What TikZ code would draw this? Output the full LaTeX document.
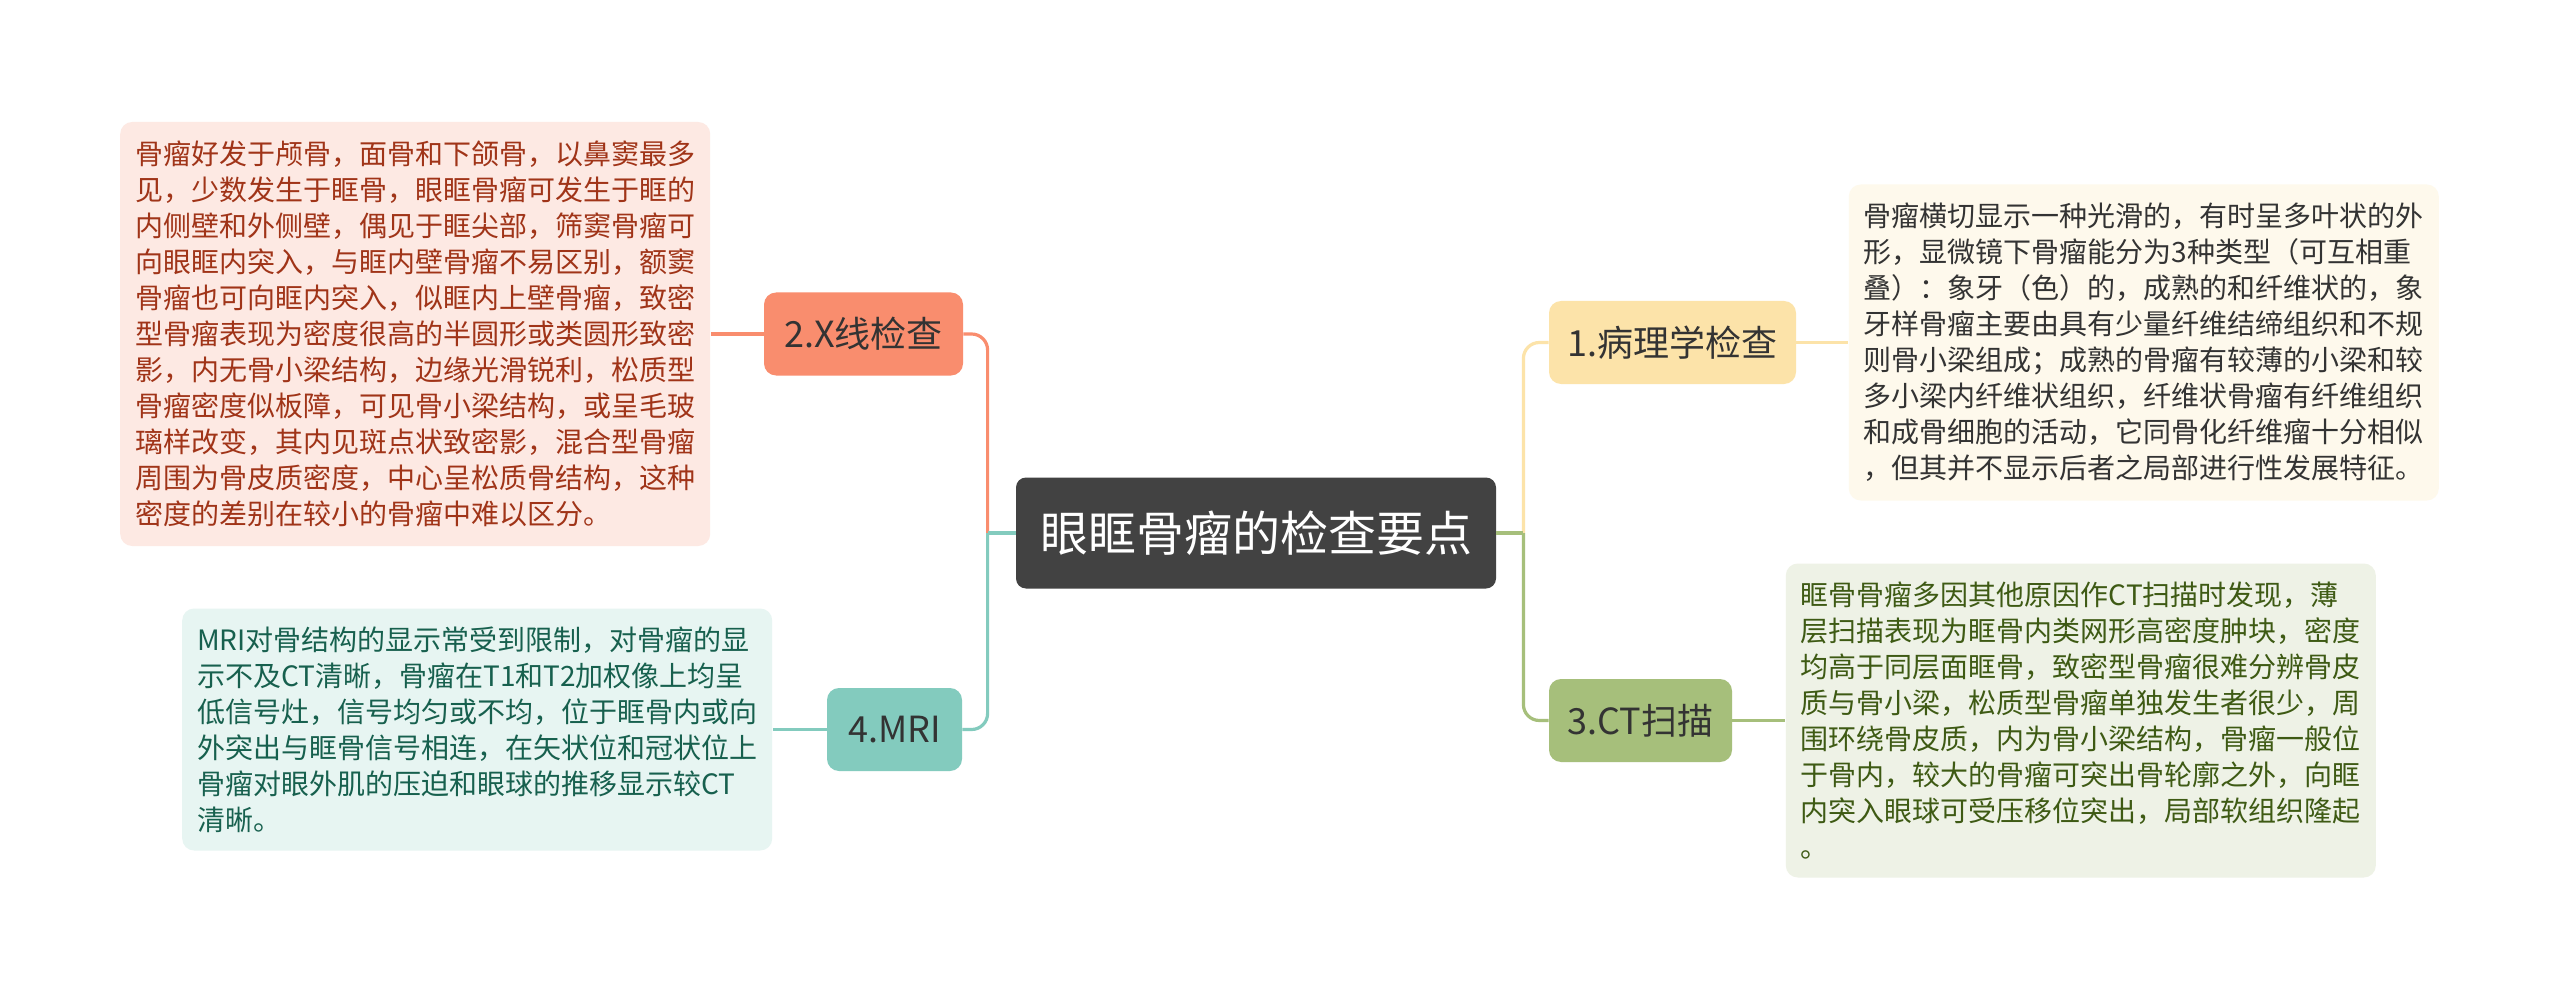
\documentclass[tikz,border=0pt]{standalone}
\usepackage{fontspec}
\setmainfont{Noto Sans CJK SC}
\usepackage{xcolor}
\usetikzlibrary{positioning, calc}

\definecolor{rootgray}{HTML}{424242}
\definecolor{xrayorange}{HTML}{F98D6E}
\definecolor{xraypink}{HTML}{FDE9E3}
\definecolor{xraytext}{HTML}{A03418}
\definecolor{mriteal}{HTML}{83CBBE}
\definecolor{mripale}{HTML}{E7F5F2}
\definecolor{mritext}{HTML}{17604E}
\definecolor{pathoyellow}{HTML}{FCE3A9}
\definecolor{pathopale}{HTML}{FEF9EC}
\definecolor{ctgreen}{HTML}{A6BF7B}
\definecolor{ctpale}{HTML}{EEF2E6}
\definecolor{cttext}{HTML}{3E5A14}

\begin{document}
\begin{tikzpicture}[
  x=0.5pt, y=-0.5pt,
  rootbox/.style={rectangle, rounded corners=5pt, fill=rootgray, text=white,
        minimum width=240pt, minimum height=55.5pt, inner sep=0pt,
        font=\fontsize{24pt}{28pt}\selectfont},
  branchbox/.style={rectangle, rounded corners=6pt, minimum height=41.5pt,
        inner sep=0pt, text=black!80, font=\fontsize{18pt}{22pt}\selectfont},
  notebox/.style={rectangle, rounded corners=6pt, text width=280pt,
        inner xsep=7.5pt, inner ysep=0pt, align=left,
        font=\fontsize{14pt}{18pt}\selectfont},
  link/.style={line width=1.6pt},
]

% --- canvas ---
\fill[white] (0,0) rectangle (2560,1000);
\useasboundingbox (0,0) rectangle (2560,1000);

% --- root and the four branches ---
\node[rootbox] (root) at (1256,533) {眼眶骨瘤的检查要点};

\node[branchbox, fill=xrayorange, minimum width=99.5pt]  (xray)  at (863.5,334)   {2.X线检查};
\node[branchbox, fill=mriteal, minimum width=67.5pt]     (mri)   at (894.5,729.5) {4.MRI};
\node[branchbox, fill=pathoyellow, minimum width=123.5pt] (patho) at (1672.5,342.5) {1.病理学检查};
\node[branchbox, fill=ctgreen, minimum width=91.5pt]     (ct)    at (1640.5,720.5) {3.CT扫描};

% --- notes, left side ---
\node[notebox, fill=xraypink, text=xraytext, minimum height=212pt, left=26.5pt of xray]
  (xraynote) {%
    骨瘤好发于颅骨，面骨和下颌骨，以鼻窦最多\\
    见，少数发生于眶骨，眼眶骨瘤可发生于眶的\\
    内侧壁和外侧壁，偶见于眶尖部，筛窦骨瘤可\\
    向眼眶内突入，与眶内壁骨瘤不易区别，额窦\\
    骨瘤也可向眶内突入，似眶内上壁骨瘤，致密\\
    型骨瘤表现为密度很高的半圆形或类圆形致密\\
    影，内无骨小梁结构，边缘光滑锐利，松质型\\
    骨瘤密度似板障，可见骨小梁结构，或呈毛玻\\
    璃样改变，其内见斑点状致密影，混合型骨瘤\\
    周围为骨皮质密度，中心呈松质骨结构，这种\\
    密度的差别在较小的骨瘤中难以区分。
  };

\node[notebox, fill=mripale, text=mritext, minimum height=121pt, left=27pt of mri]
  (mrinote) {%
    MRI对骨结构的显示常受到限制，对骨瘤的显\\
    示不及CT清晰，骨瘤在T1和T2加权像上均呈\\
    低信号灶，信号均匀或不均，位于眶骨内或向\\
    外突出与眶骨信号相连，在矢状位和冠状位上\\
    骨瘤对眼外肌的压迫和眼球的推移显示较CT\\
    清晰。
  };

% --- notes, right side ---
\node[notebox, fill=pathopale, text=black!80, minimum height=158pt, right=26pt of patho]
  (pathonote) {%
    骨瘤横切显示一种光滑的，有时呈多叶状的外\\
    形，显微镜下骨瘤能分为3种类型（可互相重\\
    叠）：象牙（色）的，成熟的和纤维状的，象\\
    牙样骨瘤主要由具有少量纤维结缔组织和不规\\
    则骨小梁组成；成熟的骨瘤有较薄的小梁和较\\
    多小梁内纤维状组织，纤维状骨瘤有纤维组织\\
    和成骨细胞的活动，它同骨化纤维瘤十分相似\\
    ，但其并不显示后者之局部进行性发展特征。
  };

\node[notebox, fill=ctpale, text=cttext, minimum height=157pt, right=26.5pt of ct]
  (ctnote) {%
    眶骨骨瘤多因其他原因作CT扫描时发现，薄\\
    层扫描表现为眶骨内类网形高密度肿块，密度\\
    均高于同层面眶骨，致密型骨瘤很难分辨骨皮\\
    质与骨小梁，松质型骨瘤单独发生者很少，周\\
    围环绕骨皮质，内为骨小梁结构，骨瘤一般位\\
    于骨内，较大的骨瘤可突出骨轮廓之外，向眶\\
    内突入眼球可受压移位突出，局部软组织隆起\\
    。
  };

% --- links, left ---
\coordinate (lj) at ($(root.west)+(-28,0)$);
\draw[link, xrayorange, rounded corners=8pt] (lj) |- (xray.east);
\draw[link, mriteal] (root.west) -- (lj);
\draw[link, mriteal, rounded corners=8pt] (lj) |- (mri.east);
\draw[link, xrayorange] (xray.west) -- (xraynote.east);
\draw[link, mriteal] (mri.west) -- (mrinote.east);

% --- links, right ---
\coordinate (rj) at ($(root.east)+(27,0)$);
\draw[link, pathoyellow, rounded corners=8pt] (rj) |- (patho.west);
\draw[link, ctgreen] (root.east) -- (rj);
\draw[link, ctgreen, rounded corners=8pt] (rj) |- (ct.west);
\draw[link, pathoyellow] (patho.east) -- (pathonote.west);
\draw[link, ctgreen] (ct.east) -- (ctnote.west);

\end{tikzpicture}
\end{document}
